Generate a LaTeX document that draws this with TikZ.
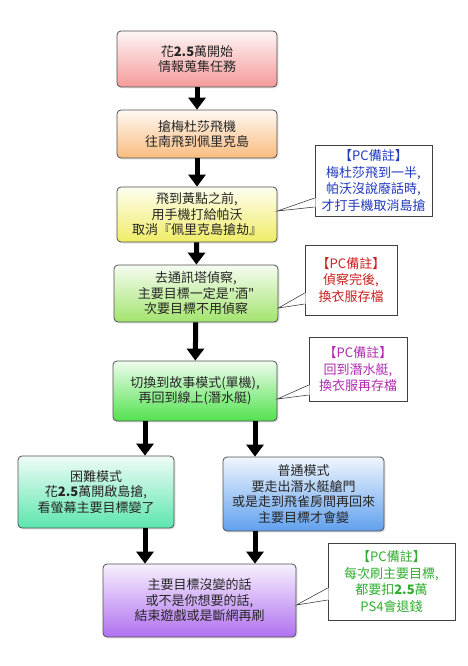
\documentclass[tikz,border=0pt]{standalone}
\usepackage{fontspec}
\setmainfont{Noto Sans CJK TC}
\newfontfamily\plainq{Noto Sans CJK TC}
\usepackage{xcolor}
\usepackage{tikz}
\usetikzlibrary{arrows.meta,shadows}
\definecolor{boxline}{HTML}{505050}
\definecolor{pinkc}{HTML}{F59A9A}
\definecolor{orangec}{HTML}{FABC7E}
\definecolor{yellowc}{HTML}{F0EC66}
\definecolor{lgreenc}{HTML}{A2E46E}
\definecolor{greenc}{HTML}{52E24E}
\definecolor{mintc}{HTML}{5CE6AE}
\definecolor{bluec}{HTML}{60A0EE}
\definecolor{purplec}{HTML}{B070F0}
\definecolor{noteblue}{HTML}{2038C0}
\definecolor{notered}{HTML}{CC2020}
\definecolor{notepurple}{HTML}{B02CB0}
\definecolor{notegreen}{HTML}{2EAE2E}
\newcommand{\ptr}[5]{\fill[white] ([xshift=0.8pt]#1.west |- 0,#3) -- (#2.east |- 0,#5) -- ([xshift=0.8pt]#1.west |- 0,#4) -- cycle; \draw[noteline] (#1.west |- 0,#3) -- (#2.east |- 0,#5) -- (#1.west |- 0,#4);}

\begin{document}
\begin{tikzpicture}[x=1pt,y=-1pt,
  flowbox/.style={draw=boxline,line width=0.8pt,rounded corners=4pt,align=center,inner sep=0pt,
    top color=#1!10!white,bottom color=#1,text=black!85,
    font=\fontsize{13}{15.5}\selectfont,
    drop shadow={shadow xshift=1.5pt,shadow yshift=-1.5pt,opacity=0.2}},
  pcnote/.style={draw=black!75,line width=0.6pt,fill=white,align=center,inner sep=0pt,
    font=\fontsize{13}{16.5}\selectfont},
  noteline/.style={draw=black!75,line width=0.6pt},
  flow/.style={line width=5pt,-{Triangle[length=12pt,width=17pt]}}]
\useasboundingbox (0,0) rectangle (468,666);
\coordinate (colL) at (145,0);
\coordinate (colR) at (255,0);
% main steps
\node[flowbox=pinkc,minimum width=160pt,minimum height=56pt] (b1) at (197,59) {花\textbf{2.5}萬開始\\情報蒐集任務};
\node[flowbox=orangec,minimum width=160pt,minimum height=48pt] (b2) at (197,134) {搶梅杜莎飛機\\往南飛到佩里克島};
\node[flowbox=yellowc,minimum width=160pt,minimum height=55pt] (b3) at (197,214.5) {飛到黃點之前,\\用手機打給帕沃\\取消『佩里克島搶劫』};
\node[flowbox=lgreenc,minimum width=164pt,minimum height=57pt] (b4) at (196,293.5) {去通訊塔偵察,\\主要目標一定是{\plainq"}酒{\plainq"}\\次要目標不用偵察};
\node[flowbox=greenc,minimum width=164pt,minimum height=60pt] (b5) at (195,391) {切換到故事模式(單機),\\再回到線上(潛水艇)};
\node[flowbox=mintc,minimum width=156pt,minimum height=72pt] (hard) at (96,492) {困難模式\\花\textbf{2.5}萬開啟島搶,\\看螢幕主要目標變了};
\node[flowbox=bluec,minimum width=161pt,minimum height=74pt] (normal) at (303.5,494) {普通模式\\要走出潛水艇艙門\\或是走到飛雀房間再回來\\主要目標才會變};
\node[flowbox=purplec,minimum width=193pt,minimum height=73pt] (b8) at (199.5,600.5) {主要目標沒變的話\\或不是你想要的話,\\結束遊戲或是斷網再刷};
% arrows
\draw[flow] (b1) -- (b2);
\draw[flow] (b2) -- (b3);
\draw[flow] (b3) -- (b4);
\draw[flow] (b4) -- (b5);
\draw[flow] (b5.south -| colL) -- (hard.north -| colL);
\draw[flow] (b5.south -| colR) -- (normal.north -| colR);
\draw[flow] (hard.south -| colL) -- (b8.north -| colL);
\draw[flow] (normal.south -| colR) -- (b8.north -| colR);
% PC notes
\node[pcnote,text=noteblue,minimum width=117pt,minimum height=71pt] (n1) at (373.5,180.5) {【PC備註】\\梅杜莎飛到一半,\\帕沃沒說廢話時,\\才打手機取消島搶};
\node[pcnote,text=notered,minimum width=92pt,minimum height=70pt] (n2) at (351,280) {【PC備註】\\偵察完後,\\換衣服存檔};
\node[pcnote,text=notepurple,minimum width=98pt,minimum height=64pt] (n3) at (358,369.5) {【PC備註】\\回到潛水艇,\\換衣服再存檔};
\node[pcnote,text=notegreen,minimum width=127pt,minimum height=77pt] (n4) at (391.5,581.5) {【PC備註】\\每次刷主要目標,\\都要扣\textbf{2.5}萬\\PS4會退錢};
\ptr{n1}{b3}{198}{207}{211}
\ptr{n2}{b4}{293}{304}{308}
\ptr{n3}{b5}{385}{395}{399}
\ptr{n4}{b8}{588}{600}{605}
\end{tikzpicture}
\end{document}
